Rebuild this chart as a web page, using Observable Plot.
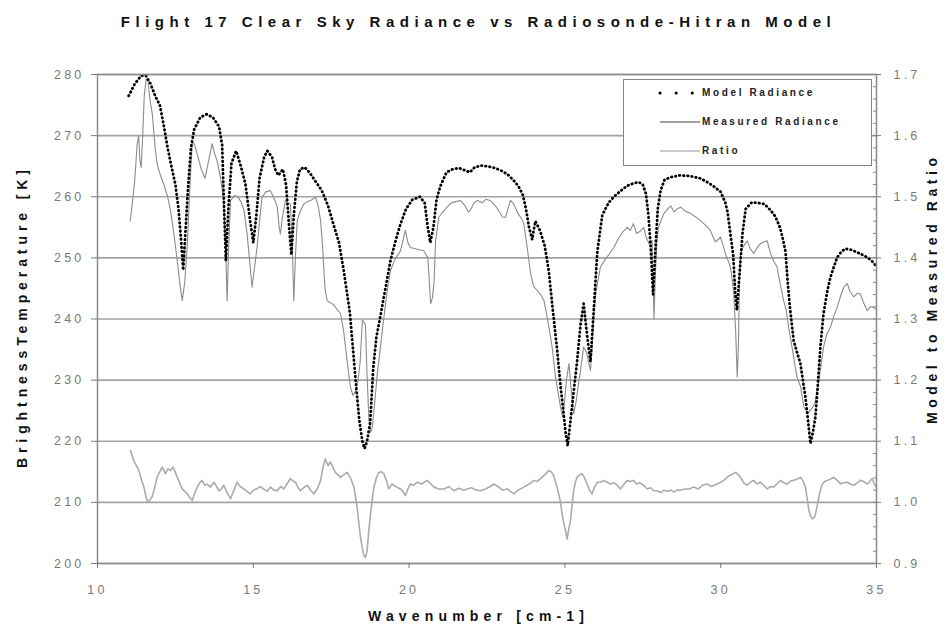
<!DOCTYPE html>
<html><head><meta charset="utf-8">
<script src="https://cdn.jsdelivr.net/npm/d3@7"></script>
<script src="https://cdn.jsdelivr.net/npm/@observablehq/plot@0.6"></script>
<style>
body{margin:0;background:#fff;font-family:"Liberation Sans",Arial,sans-serif;}
#wrap{position:relative;width:946px;height:634px;overflow:hidden;background:#fff}
#title{position:absolute;left:0;top:0;width:946px;height:44px;line-height:44px;text-align:center;font-weight:bold;font-size:15px;color:#111;white-space:nowrap}
#chart{position:absolute;left:0;top:44px}
#legend{position:absolute;left:623px;top:79px;width:249px;height:87px;border:1.5px solid #858585;background:#fff;box-sizing:border-box}
#legend .row{position:absolute;left:0;height:16px}
#legend .lab{position:absolute;left:78px;top:0;line-height:16px;font-weight:bold;font-size:10px;color:#222;white-space:nowrap}
#legend svg{position:absolute;left:30px;top:0}
</style></head><body>
<div id="wrap">
  <div id="title">Flight 17 Clear Sky Radiance vs Radiosonde-Hitran Model</div>
  <div id="chart"></div>
  <div id="legend">
    <div class="row" style="top:5px"><svg width="48" height="16"><line x1="6" y1="8" x2="46" y2="8" stroke="#000" stroke-width="3" stroke-linecap="round" stroke-dasharray="0.1,16"/></svg><span class="lab">Model Radiance</span></div>
    <div class="row" style="top:34px"><svg width="48" height="16"><line x1="6" y1="8" x2="46" y2="8" stroke="#a0a0a0" stroke-width="2"/></svg><span class="lab">Measured Radiance</span></div>
    <div class="row" style="top:63px"><svg width="48" height="16"><line x1="6" y1="8" x2="46" y2="8" stroke="#b8b8b8" stroke-width="1.3"/></svg><span class="lab">Ratio</span></div>
  </div>
</div>
<script>
// ---- data ----
const modelWn = [11.0,11.2,11.4,11.55,11.7,11.85,12.0,12.15,12.25,12.35,12.5,12.6,12.68,12.75,12.82,12.9,13.0,13.1,13.3,13.5,13.7,13.9,14.0,14.05,14.12,14.2,14.3,14.45,14.6,14.75,14.9,15.0,15.1,15.2,15.35,15.45,15.6,15.7,15.8,15.95,16.05,16.15,16.22,16.3,16.4,16.5,16.65,16.8,17.0,17.2,17.4,17.6,17.75,17.9,18.0,18.1,18.2,18.3,18.4,18.5,18.57,18.65,18.75,18.85,18.95,19.08,19.24,19.4,19.55,19.72,19.9,20.1,20.35,20.5,20.6,20.68,20.78,20.88,21.0,21.2,21.4,21.6,21.8,21.95,22.1,22.3,22.5,22.75,22.95,23.15,23.35,23.5,23.65,23.75,23.85,23.95,24.05,24.2,24.35,24.48,24.6,24.75,24.86,24.96,25.02,25.09,25.18,25.28,25.39,25.5,25.6,25.72,25.82,25.92,26.04,26.2,26.4,26.57,26.8,27.0,27.2,27.37,27.5,27.6,27.68,27.75,27.83,27.9,27.98,28.07,28.2,28.4,28.7,29.0,29.35,29.6,29.8,30.0,30.15,30.22,30.31,30.4,30.47,30.52,30.6,30.7,30.8,31.0,31.2,31.4,31.6,31.75,31.9,32.0,32.08,32.15,32.22,32.34,32.45,32.56,32.65,32.72,32.8,32.88,32.96,33.04,33.1,33.2,33.3,33.42,33.52,33.63,33.74,33.87,34.0,34.2,34.38,34.55,34.7,34.85,35.0];
const modelBT = [276.5,278.5,279.8,279.8,278.5,276.5,275.0,271,268,265.5,262,258,253,248,254,261,268,271,273,273.5,273,271.5,268.5,260,249.5,258,265.5,267.5,265,262,256,252.5,257,263,266.5,267.5,266.5,264.5,263.5,264.5,262,255,250.5,257,262.5,264.5,264.8,264,262.5,261,258.5,255,252.5,248,244.5,241,235,229,223.5,220,218.8,220,223,232,237,240.5,245,249.5,252.5,255.5,258,259.5,260,259,255,252.5,255,259.5,261.7,264,264.5,264.7,264.3,264,264.8,265.1,265,264.7,264.3,263.7,262.7,261.8,260.3,258,255,253,256,254.5,252,248,242,235,229,224.5,221.5,219.3,223.4,228,233,239,242.5,237,233,241,251,257,259,260,261,261.8,262.2,262.4,262,260.5,257,252,244,251,258,261,262.8,263.2,263.5,263.4,263,262.3,261.6,260.8,259,257.5,254,250.5,244,241.5,247,254,258,259.1,259,258.8,257.8,256.8,255,253,251,246,242,236.5,234.5,232.7,229.5,227.2,223.5,219.6,221.5,224,228,235.4,240.9,244.5,246.8,248.5,250.1,251,251.5,251.3,250.9,250.5,250.1,249.5,248.6];

const measuredWn = [11.05,11.12,11.2,11.27,11.32,11.36,11.4,11.45,11.5,11.56,11.62,11.68,11.76,11.85,11.92,12.0,12.13,12.25,12.34,12.45,12.56,12.65,12.72,12.8,12.88,12.95,13.04,13.12,13.2,13.33,13.45,13.55,13.68,13.76,13.84,13.95,14.05,14.12,14.16,14.21,14.27,14.4,14.5,14.6,14.7,14.8,14.9,14.96,15.04,15.12,15.2,15.28,15.4,15.55,15.68,15.77,15.83,15.87,15.93,16.03,16.12,16.19,16.25,16.3,16.35,16.41,16.5,16.62,16.74,16.84,16.94,17.0,17.08,17.16,17.22,17.26,17.3,17.37,17.5,17.58,17.7,17.8,17.9,17.96,18.05,18.12,18.2,18.28,18.36,18.43,18.5,18.55,18.6,18.65,18.71,18.77,18.82,18.9,18.98,19.06,19.14,19.22,19.3,19.4,19.55,19.72,19.8,19.88,19.96,20.04,20.2,20.35,20.47,20.6,20.65,20.69,20.75,20.8,20.85,20.95,21.08,21.22,21.35,21.5,21.65,21.8,21.9,21.97,22.08,22.2,22.35,22.47,22.6,22.7,22.8,22.9,23.0,23.09,23.17,23.25,23.36,23.5,23.6,23.68,23.79,23.9,24.0,24.11,24.22,24.33,24.43,24.51,24.59,24.7,24.78,24.86,24.93,24.98,25.05,25.13,25.2,25.28,25.36,25.44,25.5,25.6,25.7,25.78,25.82,25.87,25.93,26.0,26.14,26.3,26.45,26.57,26.7,26.85,27.0,27.1,27.2,27.3,27.4,27.53,27.6,27.7,27.8,27.83,27.86,27.9,27.95,28.0,28.17,28.3,28.4,28.5,28.6,28.71,28.85,29.05,29.2,29.35,29.5,29.67,29.75,29.83,29.92,29.99,30.08,30.15,30.25,30.31,30.38,30.42,30.48,30.53,30.57,30.6,30.64,30.72,30.85,30.95,31.06,31.15,31.27,31.38,31.49,31.6,31.7,31.81,31.9,32.02,32.1,32.2,32.29,32.38,32.45,32.56,32.67,32.8,32.9,33.02,33.15,33.3,33.4,33.52,33.63,33.74,33.85,33.95,34.06,34.15,34.27,34.38,34.48,34.6,34.7,34.8,34.91,35.0];
const measuredBT = [256,259,263,268.5,270,266,264.8,270,276.5,279.2,279,276,273.5,268,265.2,263.8,262,260,257.8,254,249.5,245.5,243,246,252,260,269,268.5,267,264.5,263,265.5,268.7,267,265.9,263,259.4,250,243,252,259.4,260.2,260,259.2,257.8,254,248.5,245.2,248.5,251.7,256,259.9,260.8,261,259.6,258.3,255,253.9,256.5,259.4,259,258.8,252,243,250,256.1,257.5,258.8,259.2,259.4,259.7,259.9,258.5,256.1,252,248.5,245,243,242.6,242.3,241.5,240.9,238,235.4,231.5,228.8,227.5,228.2,229.9,233,239.8,239.5,239,231,223.4,221.5,222.3,226.5,231.1,234.5,238.1,241.5,244.7,247.9,249.8,251.1,252.8,254.5,252.5,251.7,251.5,251.3,251.2,250,246,242.5,243.5,246,252.8,256.6,257.5,258.3,259,259.2,259.4,258.5,257.5,257.8,259,259.4,259,259.6,259.4,258.9,258.3,257.5,256.7,256.6,258,259.4,258.8,257.2,256.5,255.6,251.7,247.4,245.3,244.7,244,243,240.3,238,235.4,230.5,228,225.6,224,226,230,232.7,228.5,224.5,226.5,229.5,231.6,235.4,234.5,232.5,231.6,235,240.9,244.5,248.5,249.8,250.8,251.7,253,254.2,255,254.5,255.6,254,254.3,255,253.5,252.3,252.8,246,240,247,252.5,255,257.2,258,258.5,257.5,258,258.3,257.7,257.2,256.7,256.1,255.4,254.5,253.5,252.6,253,253.4,252,250.7,249.4,248.5,246,244,238,230.5,236,246,250.7,251.8,252.8,251.5,250.7,251.5,252.3,252.6,252.8,250.7,249.5,248.5,246,243,241.5,238,235.4,232.5,230.5,229,225.6,224.6,225.2,226.1,229.9,235.4,237.5,238.6,240.5,241.9,243.8,245.2,245.8,244.5,243.6,244.2,244.1,242.5,241.4,242,241.9,241.5];

const ratioWn = [11.06,11.15,11.25,11.33,11.42,11.49,11.56,11.62,11.7,11.76,11.84,11.91,12.0,12.08,12.18,12.26,12.34,12.42,12.5,12.6,12.72,12.8,12.88,12.96,13.04,13.12,13.2,13.28,13.36,13.44,13.52,13.62,13.74,13.82,13.9,13.98,14.05,14.16,14.27,14.38,14.48,14.58,14.7,14.8,14.9,15.0,15.12,15.22,15.33,15.45,15.55,15.66,15.77,15.88,15.98,16.08,16.19,16.27,16.35,16.43,16.51,16.62,16.73,16.84,16.94,17.05,17.16,17.24,17.31,17.4,17.47,17.55,17.63,17.72,17.8,17.9,18.01,18.12,18.23,18.33,18.44,18.5,18.55,18.6,18.65,18.7,18.76,18.87,18.95,19.03,19.11,19.19,19.27,19.35,19.45,19.51,19.6,19.72,19.8,19.88,19.96,20.04,20.15,20.26,20.4,20.58,20.7,20.8,20.95,21.12,21.28,21.44,21.6,21.75,21.86,22.0,22.15,22.29,22.45,22.6,22.72,22.85,23.0,23.15,23.25,23.36,23.5,23.68,23.85,24.0,24.1,24.22,24.35,24.48,24.56,24.64,24.72,24.8,24.86,24.91,24.97,25.02,25.07,25.12,25.18,25.23,25.28,25.33,25.39,25.47,25.55,25.63,25.71,25.79,25.87,25.95,26.04,26.14,26.25,26.36,26.46,26.58,26.68,26.78,26.9,27.0,27.1,27.2,27.3,27.4,27.53,27.64,27.75,27.85,27.96,28.08,28.18,28.28,28.4,28.5,28.6,28.7,28.85,29.0,29.13,29.28,29.42,29.56,29.7,29.88,30.0,30.1,30.2,30.3,30.4,30.48,30.56,30.64,30.74,30.85,30.95,31.06,31.16,31.27,31.38,31.49,31.6,31.7,31.8,31.92,32.02,32.13,32.24,32.34,32.45,32.56,32.64,32.72,32.78,32.83,32.88,32.94,33.0,33.04,33.1,33.15,33.2,33.26,33.34,33.42,33.52,33.63,33.74,33.85,33.95,34.06,34.16,34.27,34.38,34.48,34.6,34.7,34.78,34.86,34.93,34.99];
const ratioVal = [1.085,1.07,1.06,1.052,1.035,1.025,1.008,1.0,1.005,1.01,1.025,1.041,1.05,1.058,1.047,1.055,1.052,1.058,1.049,1.036,1.022,1.018,1.014,1.008,1.003,1.015,1.025,1.032,1.036,1.028,1.03,1.025,1.033,1.026,1.019,1.022,1.028,1.016,1.006,1.02,1.033,1.026,1.022,1.018,1.014,1.02,1.022,1.026,1.022,1.018,1.025,1.02,1.019,1.026,1.022,1.03,1.039,1.035,1.033,1.025,1.019,1.024,1.028,1.02,1.014,1.022,1.036,1.058,1.071,1.06,1.066,1.058,1.049,1.045,1.041,1.045,1.049,1.04,1.025,0.992,0.943,0.925,0.913,0.91,0.92,0.95,0.981,1.025,1.04,1.049,1.05,1.047,1.036,1.022,1.03,1.028,1.025,1.022,1.018,1.011,1.022,1.03,1.028,1.033,1.03,1.036,1.03,1.025,1.022,1.022,1.026,1.019,1.023,1.02,1.022,1.024,1.02,1.019,1.022,1.026,1.03,1.026,1.02,1.022,1.018,1.014,1.02,1.025,1.03,1.036,1.034,1.039,1.045,1.052,1.05,1.044,1.03,1.014,1.0,0.981,0.965,0.954,0.94,0.955,0.97,0.995,1.019,1.032,1.041,1.045,1.047,1.04,1.03,1.02,1.014,1.025,1.033,1.033,1.036,1.033,1.03,1.032,1.028,1.022,1.03,1.036,1.034,1.036,1.03,1.032,1.028,1.022,1.024,1.019,1.019,1.016,1.02,1.018,1.02,1.017,1.02,1.02,1.022,1.022,1.025,1.022,1.028,1.03,1.026,1.03,1.033,1.036,1.041,1.044,1.047,1.049,1.045,1.041,1.032,1.028,1.033,1.036,1.03,1.033,1.028,1.022,1.026,1.025,1.03,1.036,1.032,1.03,1.035,1.036,1.038,1.041,1.035,1.025,1.005,0.987,0.978,0.973,0.975,0.981,0.995,1.008,1.02,1.03,1.034,1.036,1.038,1.041,1.036,1.03,1.032,1.033,1.03,1.028,1.032,1.036,1.034,1.03,1.034,1.039,1.03,1.025];

const xTicks = [10, 15, 20, 25, 30, 35];
const btTicks = [200, 210, 220, 230, 240, 250, 260, 270, 280];
const ratioTickLabels = ["0.9", "1.0", "1.1", "1.2", "1.3", "1.4", "1.5", "1.6", "1.7"];
const btDomain = [200, 280];
const ratioDomain = [0.9, 1.7];

// ---- tables ----
const model = modelWn.map((x, i) => ({x, y: modelBT[i]}));
const measured = measuredWn.map((x, i) => ({x, y: measuredBT[i]}));
// ratio is placed on the shared y scale (right axis maps 0.9..1.7 onto 200..280)
const ratioToBT = d3.scaleLinear().domain(ratioDomain).range(btDomain);
const ratio = ratioWn.map((x, i) => ({x, y: ratioToBT(ratioVal[i])}));
const minorTicks = d3.range(btDomain[0], btDomain[1] + 0.001, (btDomain[1] - btDomain[0]) / 40);

const FONT = '"Liberation Sans", Arial, sans-serif';
const TITLE_L = "BrightnessTemperature [K]";
const TITLE_R = "Model to Measured Ratio";
const TITLE_X = "Wavenumber [cm-1]";
const chart = Plot.plot({
  width: 946, height: 590,
  marginTop: 30, marginBottom: 71, marginLeft: 97, marginRight: 70,
  style: {fontFamily: FONT, background: "#fff", overflow: "visible"},
  x: {domain: [10, 35]},
  y: {domain: btDomain},
  marks: [
    Plot.ruleY(btTicks, {stroke: "#a3a3a3", strokeWidth: 1.6}),
    Plot.line(ratio, {x: "x", y: "y", stroke: "#ababab", strokeWidth: 1.6}),
    Plot.line(measured, {x: "x", y: "y", stroke: "#8c8c8c", strokeWidth: 1.1}),
    Plot.line(model, {x: "x", y: "y", stroke: "#000", strokeWidth: 2.8, strokeDasharray: "0.5,3.6", strokeLinecap: "round"}),
    Plot.frame({stroke: "#8a8a8a", strokeWidth: 1.5}),
    Plot.axisX({ticks: xTicks, tickSize: 5, tickPadding: 17, fontSize: 12.5, color: "#7a7a7a", label: null, tickFormat: d => String(d)}),
    Plot.axisY({anchor: "left", ticks: btTicks, tickSize: 6, tickPadding: 7, fontSize: 12.5, color: "#7a7a7a", label: null, tickFormat: d => String(d)}),
    Plot.axisY({anchor: "right", ticks: btTicks, tickSize: 4, tickPadding: 13, fontSize: 12.5, color: "#7a7a7a", label: null, tickFormat: d => ratioTickLabels[btTicks.indexOf(d)]}),
    Plot.axisY({anchor: "right", ticks: minorTicks, tickSize: 4, dx: -4, color: "#8a8a8a", label: null, tickFormat: () => ""}),
    Plot.text([TITLE_L], {text: d => d, frameAnchor: "left", textAnchor: "middle", dx: -75, rotate: -90, fontSize: 14, fontWeight: "bold", fill: "#111"}),
    Plot.text([TITLE_R], {text: d => d, frameAnchor: "right", textAnchor: "middle", dx: 56, dy: -28, rotate: -90, fontSize: 14, fontWeight: "bold", fill: "#111"}),
    Plot.text([TITLE_X], {text: d => d, frameAnchor: "bottom", textAnchor: "middle", dx: -11, dy: 57, fontSize: 14, fontWeight: "bold", fill: "#111"})
  ]
});
document.getElementById("chart").appendChild(chart);

// stretch letter spacing to the widths used in the reference
const sel = d3.select(chart);
function fit(str, len) {
  sel.selectAll("text").filter(function () { return this.textContent === str; })
    .attr("textLength", len).attr("lengthAdjust", "spacing");
}
fit(TITLE_L, 298);
fit(TITLE_R, 266);
fit(TITLE_X, 216);
sel.selectAll('g[aria-label="y-axis tick label"] text, g[aria-label="x-axis tick label"] text').style("letter-spacing", "3.2px");

// title & legend letter spacing via measured widths
const cv = document.createElement("canvas").getContext("2d");
function spread(el, target, font) {
  cv.font = font;
  const t = el.textContent;
  const w = cv.measureText(t).width;
  const ls = (target - w) / (t.length - 1);
  el.style.letterSpacing = ls + "px";
  el.style.paddingLeft = ls + "px";
}
spread(document.getElementById("title"), 710, 'bold 15px "Liberation Sans"');
const labs = document.querySelectorAll("#legend .lab");
const perChar = (() => { cv.font = 'bold 10px "Liberation Sans"'; const t = "Measured Radiance"; return (136 - cv.measureText(t).width) / (t.length - 1); })();
labs.forEach(l => l.style.letterSpacing = perChar + "px");
</script>
</body></html>
